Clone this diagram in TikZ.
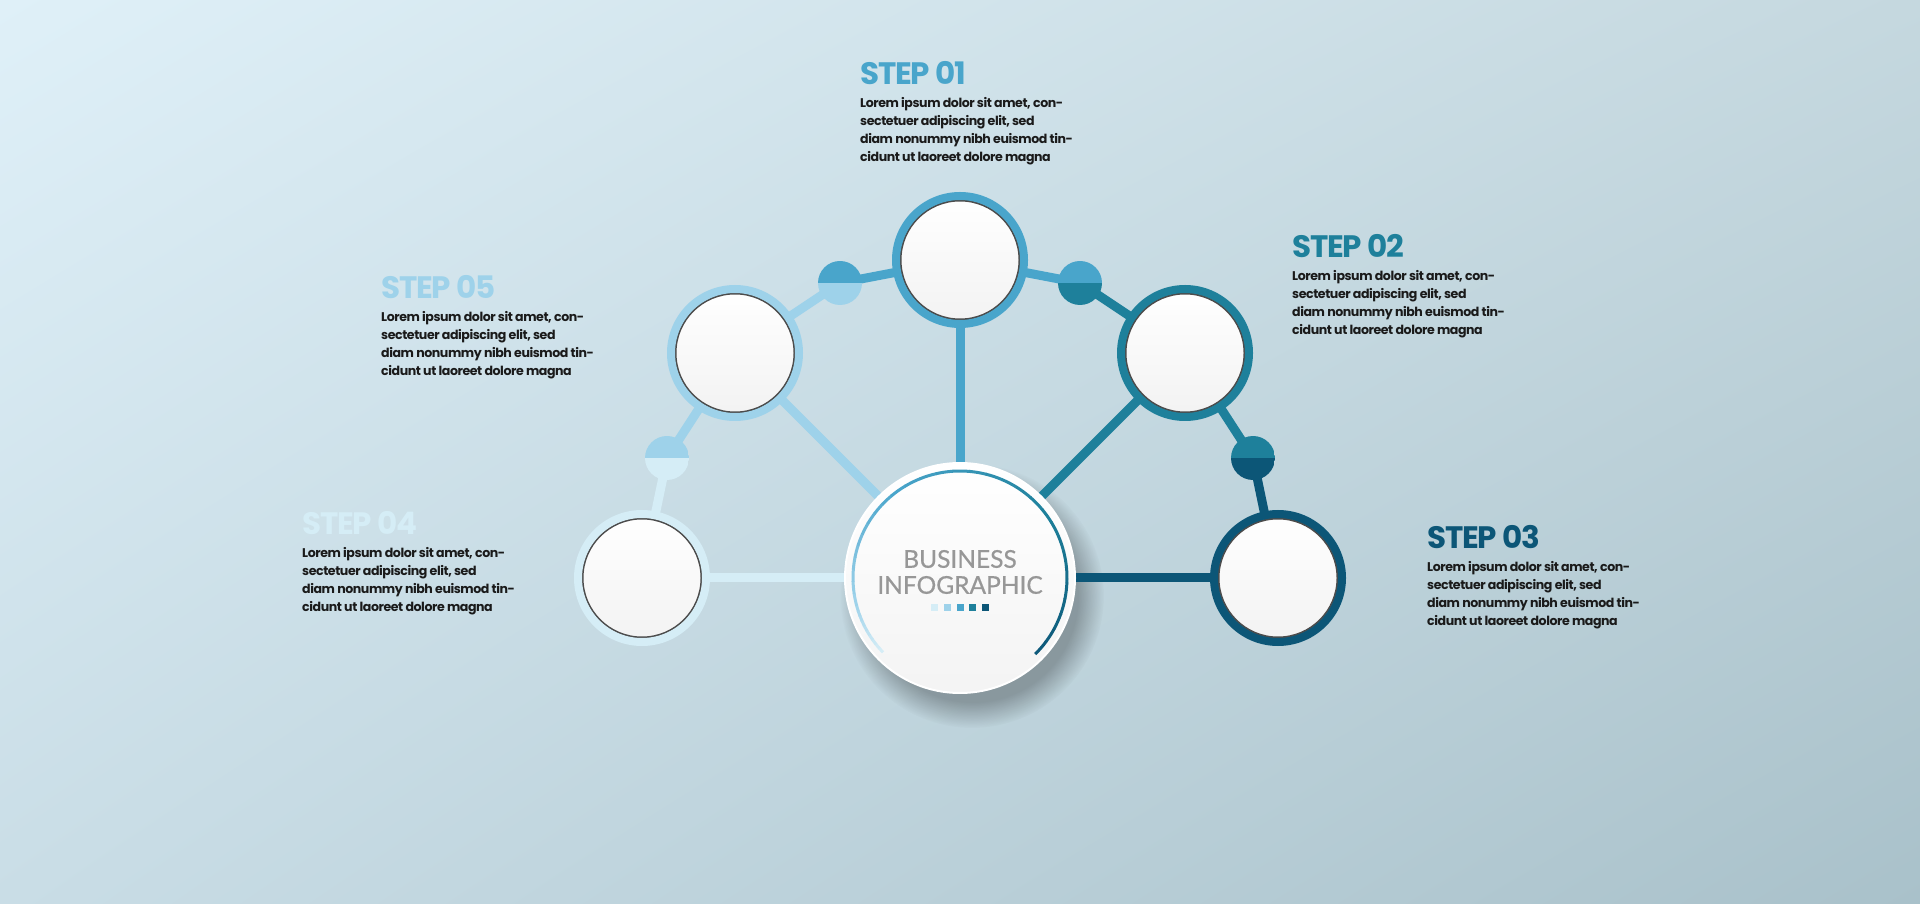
\documentclass[tikz,border=0pt]{standalone}
\usepackage{fontspec}
\usepackage{tikz}
\usetikzlibrary{positioning, fadings, shadings}
\setmainfont{Poppins}
\newfontfamily\titlefont{Poppins}[LetterSpace=-4]
\newfontfamily\bodyfont{Poppins}[LetterSpace=-3.5]
\newfontfamily\hubfont{Lato}[FakeBold=0.6]
\definecolor{stepone}{HTML}{49A5CB}
\definecolor{steptwo}{HTML}{1E809B}
\definecolor{stepthree}{HTML}{0C5677}
\definecolor{stepfour}{HTML}{D5EDF6}
\definecolor{stepfive}{HTML}{9ED2EA}
\definecolor{bgtl}{HTML}{DFF0F8}
\definecolor{bgtr}{HTML}{C5D8DF}
\definecolor{bgbl}{HTML}{C9DDE6}
\definecolor{bgbr}{HTML}{A9C1CA}
\definecolor{loremink}{HTML}{1A1A1A}
\definecolor{hubgray}{HTML}{979797}
\pgfdeclarelayer{backdrop}
\pgfdeclarelayer{links}
\pgfsetlayers{backdrop,links,main}
\newcommand{\loremblock}{Lorem ipsum dolor sit amet, con-\\sectetuer adipiscing elit, sed\\diam nonummy nibh euismod tin-\\cidunt ut laoreet dolore magna}

\begin{document}
\begin{tikzpicture}[
    x=1pt, y=1pt,
    ring/.style={circle, draw=#1, line width=8, minimum size=128, inner sep=0,
                 top color=white, bottom color=gray!10,
                 path picture={\draw[line width=2, gray!60!black]
                    (path picture bounding box.center) circle (59.5);}},
    joint/.style 2 args={circle, minimum size=44, inner sep=0,
                 path picture={
                    \fill[#1] (path picture bounding box.north west) rectangle (path picture bounding box.east);
                    \fill[#2] (path picture bounding box.west) rectangle (path picture bounding box.south east);}},
    link/.style={line width=9, draw=#1},
    steptitle/.style={anchor=base west, inner sep=0, text=#1,
                      font=\titlefont\bfseries\fontsize{31}{31}\selectfont},
    lorem/.style={inner sep=0, align=left, text=loremink,
                  font=\bodyfont\bfseries\fontsize{12.6}{18.2}\selectfont},
    sq/.style={rectangle, minimum size=7, inner sep=0, fill=#1},
]

% Backdrop
\begin{pgfonlayer}{backdrop}
\shade[upper left=bgtl, upper right=bgtr, lower left=bgbl, lower right=bgbr]
      (0,0) rectangle (1920,903);
\end{pgfonlayer}
\useasboundingbox (0,0) rectangle (1920,903);

% Hub
\node[circle, minimum size=230, inner sep=0, draw=white, line width=2,
      top color=white, bottom color=gray!9] (hub) at (960,325) {};
\node[font=\hubfont\fontsize{24.5}{26}\selectfont, text=hubgray, align=center]
      (hubtitle) at ([yshift=6]hub.center) {BUSINESS\\INFOGRAPHIC};

% Coloured arc inside the hub
\foreach \ca/\cb/\sa/\sb in {stepfour/stepfive/224/195, stepfive/stepone/195/130,
                             stepone/steptwo/130/40, steptwo/stepthree/40/-45}
  \foreach \k in {0,...,9} {
    \pgfmathtruncatemacro\mix{10*\k}
    \pgfmathsetmacro\st{\sa+(\sb-\sa)*\k/10}
    \pgfmathsetmacro\en{\sa+(\sb-\sa)*(\k+1)/10-0.3}
    \draw[line width=3, \cb!\mix!\ca] ([shift={(\st:107)}]hub.center)
         arc[start angle=\st, end angle=\en, radius=107];
  }

% Small squares
\foreach \c [count=\i] in {stepfour,stepfive,stepone,steptwo,stepthree}
  \node[sq=\c] (sq\i) at ([shift={(12.6*\i-37.8,-30)}]hub.center) {};

% Step circles
\node[ring=stepone]   (s1) at (960,643) {};
\node[ring=steptwo]   (s2) at (1185,550) {};
\node[ring=stepthree] (s3) at (1278,325) {};
\node[ring=stepfour]  (s4) at (642,325) {};
\node[ring=stepfive]  (s5) at (735,550) {};

% Joints on the outer chain
\node[joint={stepone}{stepfive}]   (d51) at (840,620) {};
\node[joint={stepone}{steptwo}]    (d12) at (1080,620) {};
\node[joint={stepfive}{stepfour}]  (d45) at (667,445) {};
\node[joint={steptwo}{stepthree}]  (d23) at (1253,445) {};

% Shadow and connectors
\begin{pgfonlayer}{links}
\fill[black, opacity=0.28, path fading=circle with fuzzy edge 20 percent]
     ([shift={(12,-18)}]hub.center) circle (132);
\draw[link=stepone]   (s1.center) -- (hub.center);
\draw[link=steptwo]   (s2.center) -- (hub.center);
\draw[link=stepthree] (s3.center) -- (hub.center);
\draw[link=stepfour]  (s4.center) -- (hub.center);
\draw[link=stepfive]  (s5.center) -- (hub.center);
\draw[link=stepfour]  (s4.center) -- (d45.center);
\draw[link=stepfive]  (d45.center) -- (s5.center);
\draw[link=stepfive]  (s5.center) -- (d51.center);
\draw[link=stepone]   (d51.center) -- (s1.center);
\draw[link=stepone]   (s1.center) -- (d12.center);
\draw[link=steptwo]   (d12.center) -- (s2.center);
\draw[link=steptwo]   (s2.center) -- (d23.center);
\draw[link=stepthree] (d23.center) -- (s3.center);
\end{pgfonlayer}

% Step texts
\node[steptitle=stepone] (t1) at (860,818) {STEP 01};
\node[lorem, below right=12pt and 0pt of t1.base west] (b1) {\loremblock};
\node[steptitle=steptwo] (t2) at (1292,645) {STEP 02};
\node[lorem, below right=12pt and 0pt of t2.base west] (b2) {\loremblock};
\node[steptitle=stepthree] (t3) at (1427,354) {STEP 03};
\node[lorem, below right=12pt and 0pt of t3.base west] (b3) {\loremblock};
\node[steptitle=stepfour] (t4) at (302,368) {STEP 04};
\node[lorem, below right=12pt and 0pt of t4.base west] (b4) {\loremblock};
\node[steptitle=stepfive] (t5) at (381,604) {STEP 05};
\node[lorem, below right=12pt and 0pt of t5.base west] (b5) {\loremblock};

\end{tikzpicture}
\end{document}
